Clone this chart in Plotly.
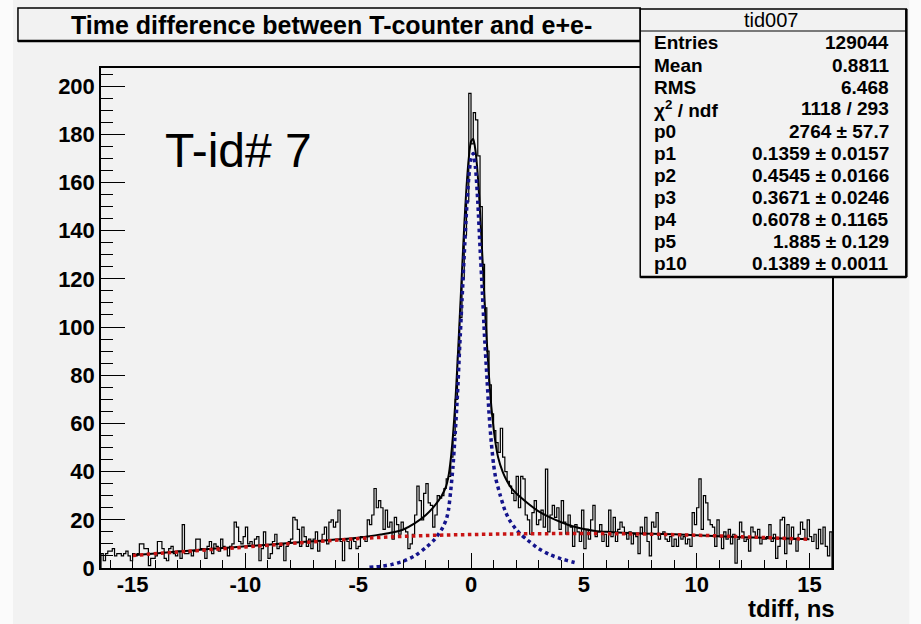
import numpy as np
import plotly.graph_objects as go

# ---------------- data ----------------
bin_start = -16.4
bin_width = 0.1
counts = [
    6, 3, 6, 7,
    7, 8, 5, 6, 6, 5, 6, 7, 5, 3,
    6, 5, 6, 10, 10, 8, 8, 1, 4, 4,
    5, 11, 11, 8, 4, 3, 8, 9, 6, 5,
    7, 4, 18, 6, 6, 7, 5, 7, 12, 12,
    8, 8, 4, 9, 11, 6, 10, 9, 7, 12,
    9, 8, 5, 9, 10, 19, 17, 11, 10, 13,
    17, 10, 11, 9, 12, 13, 3, 8, 15, 9,
    4, 6, 11, 14, 8, 9, 10, 3, 9, 11,
    12, 21, 20, 16, 9, 17, 13, 9, 12, 8,
    12, 15, 7, 11, 14, 17, 10, 19, 20, 17,
    19, 24, 11, 3, 12, 11, 8, 12, 11, 8,
    9, 13, 13, 11, 20, 18, 22, 33, 25, 28,
    25, 16, 24, 17, 19, 12, 21, 18, 14, 19,
    16, 15, 8, 10, 14, 22, 34, 28, 20, 31,
    35, 27, 26, 17, 22, 30, 29, 30, 33, 37,
    38, 46, 55, 70, 88, 104, 120, 138, 152, 197,
    176, 189, 186, 171, 150, 126, 108, 90, 76, 64,
    57, 52, 48, 58, 46, 40, 36, 34, 31, 28,
    38, 25, 38, 37, 22, 20, 14, 23, 28, 18,
    20, 24, 17, 41, 15, 22, 26, 21, 25, 16,
    28, 19, 14, 22, 17, 9, 18, 15, 11, 24,
    8, 16, 12, 20, 26, 13, 15, 18, 11, 14,
    9, 24, 13, 21, 11, 16, 19, 17, 14, 12,
    15, 10, 14, 13, 6, 17, 14, 21, 11, 5,
    19, 17, 23, 12, 14, 15, 12, 11, 13, 9,
    12, 9, 14, 12, 13, 10, 12, 9, 23, 18,
    25, 37, 16, 30, 27, 20, 18, 17, 9, 20,
    13, 8, 15, 12, 16, 10, 14, 2, 12, 19,
    15, 11, 12, 7, 17, 15, 13, 16, 10, 12,
    12, 13, 18, 11, 14, 4, 9, 20, 21, 6,
    18, 10, 17, 12, 7, 14, 19, 16, 12, 20,
    13, 11, 14, 8, 16, 10, 17, 9, 5, 15,
]

total_fit_x = [-15, -14, -13, -12, -11, -10, -9, -8, -7, -6, -5, -4.5, -4, -3.5, -3,
               -2.5, -2, -1.6, -1.3, -1.1, -1.0, -0.9, -0.8, -0.7, -0.6, -0.5, -0.4,
               -0.3, -0.2, -0.1, 0, 0.1, 0.2, 0.3, 0.4, 0.5, 0.6, 0.7, 0.8, 0.9, 1.0,
               1.1, 1.2, 1.4, 1.6, 1.8, 2.0, 2.5, 3.0, 3.5, 4.0, 4.5, 5, 5.5, 6, 7, 8,
               9, 10, 11, 12, 13, 14, 15]
total_fit_y = [5.3, 6.0, 6.8, 7.6, 8.3, 9.0, 9.7, 10.4, 11.1, 11.8, 12.6, 13.2, 13.9,
               14.7, 16, 18.5, 22, 26, 30, 34, 38, 45, 55, 68, 85, 104, 123, 142, 158,
               170, 177, 178, 173, 163, 148, 130, 111, 94, 79, 67, 58, 51, 46, 40, 36,
               33, 31, 27, 23.5, 21, 19, 17.3, 16.2, 15.4, 15, 14.5, 14.2, 14, 13.6,
               13.2, 12.8, 12.5, 12.2, 11.9]

bkg_x = [-15, -12.5, -10, -7.5, -5, -2.5, 0, 2.5, 5, 7.5, 10, 12.5, 15]
bkg_y = [5.2, 7.0, 8.7, 10.5, 12.2, 13.3, 13.9, 14.2, 14.3, 14.1, 13.6, 12.8, 11.9]

peak_x = [-4.5, -4.0, -3.5, -3.0, -2.5, -2.0, -1.6, -1.3, -1.1, -1.0, -0.9, -0.8, -0.7,
          -0.6, -0.5, -0.4, -0.3, -0.2, -0.1, 0.0, 0.1, 0.2, 0.3, 0.4, 0.5, 0.6, 0.7,
          0.8, 0.9, 1.0, 1.1, 1.3, 1.5, 1.7, 2.0, 2.2, 2.5, 3.0, 3.5, 4.0, 4.5, 4.7]
peak_y = [0.3, 0.7, 1.5, 2.8, 5, 8.5, 12, 16, 20, 24, 32, 42, 56, 72, 92, 111, 130, 148,
          162, 170, 172, 166, 152, 133, 115, 96, 80, 64, 52, 43, 37, 30, 24, 20, 16, 14,
          11.6, 8, 5.5, 3.8, 2.5, 2]

x_tick_vals = [-15, -10, -5, 0, 5, 10, 15]
x_tick_text = ["-15", "-10", "-5", "0", "5", "10", "15"]
y_tick_vals = [0, 20, 40, 60, 80, 100, 120, 140, 160, 180, 200]

stats_title = "tid007"
stats_labels = ["Entries", "Mean", "RMS", "χ<sup>2</sup> / ndf", "p0", "p1", "p2", "p3",
                "p4", "p5", "p10"]
stats_values = ["129044", "0.8811", "6.468", "1118 / 293", "2764 ± 57.7",
                "0.1359 ± 0.0157", "0.4545 ± 0.0166", "0.3671 ± 0.0246",
                "0.6078 ± 0.1165", "1.885 ± 0.129", "0.1389 ± 0.0011"]

title_text = "Time difference between T-counter and e+e-"
label_text = "T-id# 7"
x_title = "tdiff, ns"

# ---------------- layout geometry (pixels) ----------------
W, H = 921, 624
L, R, T, B = 101, 831.7, 68, 568
x_range = [-16.4, 16.0]
y_range = [0, 207.5]
BG = "#f2f2f2"
FONT = "Liberation Sans"


def px(xp):
    return (xp - L) / (R - L)


def py(yp):
    return (B - yp) / (B - T)


edges = bin_start + bin_width * np.arange(len(counts) + 1)
hx = np.concatenate([[edges[0]], edges])
hy = np.concatenate([[0], counts, [0]])

fig = go.Figure()
fig.add_trace(go.Scatter(x=hx, y=hy, mode="lines", line=dict(color="black", width=1.2, shape="hv"),
                         hoverinfo="skip", showlegend=False))
fig.add_trace(go.Scatter(x=total_fit_x, y=total_fit_y, mode="lines",
                         line=dict(color="black", width=2, shape="spline", smoothing=0.6),
                         showlegend=False))
fig.add_trace(go.Scatter(x=peak_x, y=peak_y, mode="lines",
                         line=dict(color="#14148c", width=3.5, dash="dot", shape="spline", smoothing=0.6),
                         showlegend=False))
fig.add_trace(go.Scatter(x=bkg_x, y=bkg_y, mode="lines",
                         line=dict(color="#c81414", width=3.5, dash="dot", shape="spline"),
                         showlegend=False))

shapes = []
# outer light strips
shapes.append(dict(type="rect", xref="paper", yref="paper", x0=px(0), x1=px(13), y0=py(H), y1=py(0),
                   fillcolor="#fbfbfb", line=dict(width=0), layer="below"))
shapes.append(dict(type="rect", xref="paper", yref="paper", x0=px(909), x1=px(W), y0=py(H), y1=py(0),
                   fillcolor="#fbfbfb", line=dict(width=0), layer="below"))
# title box
shapes.append(dict(type="rect", xref="paper", yref="paper", x0=px(18), x1=px(640), y0=py(41), y1=py(8),
                   fillcolor=BG, line=dict(color="black", width=1.5)))
shapes.append(dict(type="line", xref="paper", yref="paper", x0=px(18), x1=px(640), y0=py(41), y1=py(41),
                   line=dict(color="black", width=2.5)))
# stats box
shapes.append(dict(type="rect", xref="paper", yref="paper", x0=px(640), x1=px(906), y0=py(277), y1=py(9),
                   fillcolor=BG, line=dict(color="black", width=1.5)))
shapes.append(dict(type="line", xref="paper", yref="paper", x0=px(640), x1=px(906), y0=py(277), y1=py(277),
                   line=dict(color="black", width=2.5)))
shapes.append(dict(type="line", xref="paper", yref="paper", x0=px(906), x1=px(906), y0=py(277), y1=py(9),
                   line=dict(color="black", width=2.5)))
shapes.append(dict(type="line", xref="paper", yref="paper", x0=px(640), x1=px(906), y0=py(31), y1=py(31),
                   line=dict(color="black", width=1.2)))

annotations = []
annotations.append(dict(text="<b>" + title_text + "</b>", xref="paper", yref="paper",
                        x=px(331), y=py(25), xanchor="center", yanchor="middle", showarrow=False,
                        font=dict(family=FONT, size=25, color="black")))
annotations.append(dict(text=stats_title, xref="paper", yref="paper", x=px(771), y=py(20),
                        xanchor="center", yanchor="middle", showarrow=False,
                        font=dict(family=FONT, size=20, color="black")))
for i, (lab, val) in enumerate(zip(stats_labels, stats_values)):
    yy = 43 + 22 * i
    annotations.append(dict(text="<b>" + lab + "</b>", xref="paper", yref="paper", x=px(652), y=py(yy),
                            xanchor="left", yanchor="middle", showarrow=False,
                            font=dict(family=FONT, size=19, color="black")))
    annotations.append(dict(text="<b>" + val + "</b>", xref="paper", yref="paper", x=px(891), y=py(yy),
                            xanchor="right", yanchor="middle", showarrow=False,
                            font=dict(family=FONT, size=19, color="black")))
annotations.append(dict(text=label_text, xref="paper", yref="paper", x=px(163), y=py(150),
                        xanchor="left", yanchor="middle", showarrow=False,
                        font=dict(family=FONT, size=48, color="black")))
annotations.append(dict(text="<b>" + x_title + "</b>", xref="paper", yref="paper", x=px(837), y=py(608),
                        xanchor="right", yanchor="middle", showarrow=False,
                        font=dict(family=FONT, size=24, color="black")))

fig.update_layout(
    width=W, height=H,
    margin=dict(l=L, r=W - R, t=T, b=H - B, pad=0),
    paper_bgcolor=BG, plot_bgcolor=BG,
    showlegend=False,
    shapes=shapes, annotations=annotations,
    xaxis=dict(range=x_range, tickvals=x_tick_vals, ticktext=x_tick_text, ticks="inside",
               ticklen=15, tickwidth=1.2, tickcolor="black", showgrid=False, zeroline=False,
               showline=True, linecolor="black", linewidth=1.5, mirror=True,
               ticklabelstandoff=-4,
               tickfont=dict(family=FONT, size=22, color="black", weight="bold"),
               minor=dict(dtick=1, tick0=0, ticks="inside", ticklen=8, tickcolor="black", tickwidth=1.2)),
    yaxis=dict(range=y_range, tickvals=y_tick_vals, ticks="inside",
               ticklen=24, tickwidth=1.2, tickcolor="black", showgrid=False, zeroline=False,
               showline=True, linecolor="black", linewidth=1.5, mirror=True,
               tickfont=dict(family=FONT, size=22, color="black", weight="bold"),
               minor=dict(dtick=5, tick0=0, ticks="inside", ticklen=12, tickcolor="black", tickwidth=1.2)),
)

fig.write_html("out.html", config={"displayModeBar": False},
               post_script="document.body.style.margin='0';document.body.style.overflow='hidden';")
